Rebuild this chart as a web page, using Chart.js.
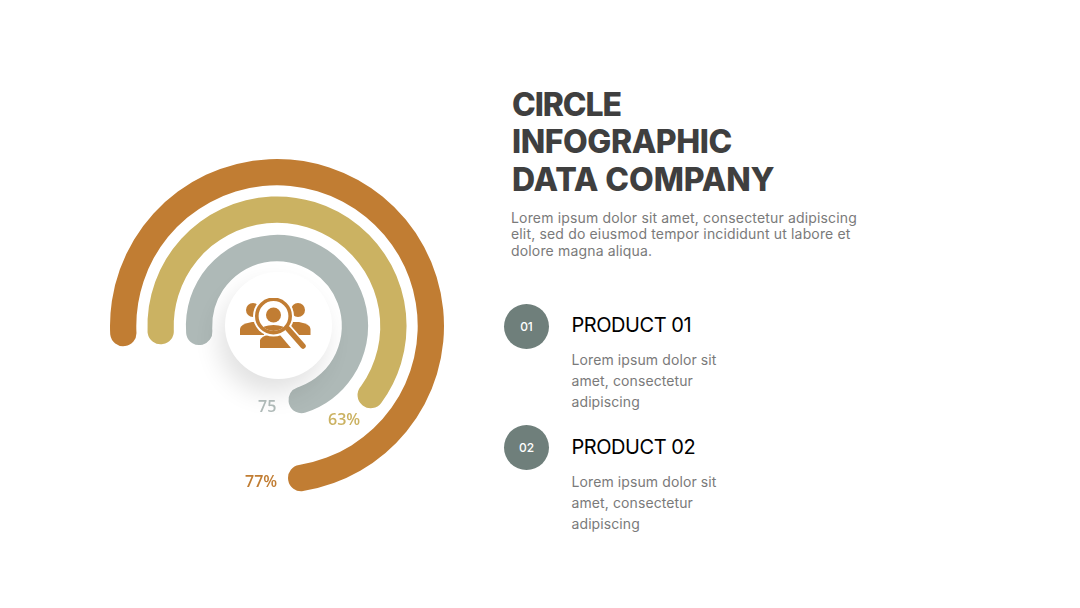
<!DOCTYPE html>
<html>
<head>
<meta charset="utf-8">
<title>Circle Infographic</title>
<script src="https://cdn.jsdelivr.net/npm/chart.js"></script>
<style>
html, body { margin: 0; padding: 0; background: #fff; }
body { width: 1080px; height: 608px; position: relative; overflow: hidden; font-family: Inter, sans-serif; }
#ring-wrap { position: absolute; left: 107px; top: 156px; width: 340px; height: 340px; }
#center-disc { position: absolute; left: 224.5px; top: 272px; width: 107px; height: 107px; border-radius: 50%; background: #fff; box-shadow: -6px 14px 26px rgba(0,0,0,.12); }
#center-icon { position: absolute; left: 238px; top: 298px; }
.t { position: absolute; white-space: nowrap; }
.head { font-weight: 800; font-size: 32px; color: #3f3f3f; }
.body { font-size: 14px; color: #7a7a7a; letter-spacing: 0.16px; }
.prod { font-size: 20px; color: #000; letter-spacing: -0.45px; }
.small { font-size: 14px; color: #7a7a7a; letter-spacing: 0.1px; }
.dot { position: absolute; width: 45px; height: 45px; border-radius: 50%; background: #6f7f7b; color: #fff; font-size: 12px; font-weight: 500; text-align: center; line-height: 45px; }
.val { position: absolute; font-family: "Open Sans", sans-serif; font-size: 16px; font-weight: 600; }
</style>
</head>
<body>
<div id="ring-wrap"><canvas id="rings" width="340" height="340"></canvas></div>
<div id="center-disc"></div>
<svg id="center-icon" width="76" height="56" viewBox="0 0 76 56">
  <defs><clipPath id="lens"><circle cx="35.5" cy="18" r="15"/></clipPath></defs>
  <g fill="#c17d33">
    <circle cx="15" cy="12" r="7"/>
    <path d="M2 37 V31 Q2 26 14 24 L26 24 L26 37 Z"/>
    <circle cx="60" cy="12" r="7"/>
    <path d="M72.5 37 V31 Q72.5 26 61 24 L50 24 L50 37 Z"/>
    <path d="M22 50 V42 Q24 38 30 37 L42 37 L53 50 Z"/>
  </g>
  <circle cx="35.5" cy="18" r="20.5" fill="#fff"/>
  <path d="M49 30 L65.5 49" stroke="#fff" stroke-width="9" stroke-linecap="round"/>
  <circle cx="35.5" cy="18" r="16.7" fill="#fff" stroke="#c17d33" stroke-width="3.6"/>
  <circle cx="35.5" cy="17" r="7.5" fill="#c17d33"/>
  <path d="M20 36 Q22 27 35.5 27 Q49 27 51 36 Z" fill="#c17d33" clip-path="url(#lens)"/>
  <path d="M50 31 L65 48" stroke="#c17d33" stroke-width="5.5" stroke-linecap="round"/>
</svg>
<div id="texts"></div>

<script>
// ring values, outer ring first
var ringLabels = ['77%', '63%', '75'];
var ringValues = [77, 63, 75];
var ringColors = ['#c17d33', '#cbb262', '#aeb9b7'];
// start angle and full-turn size of each ring
var ringRotation = [-97.5, -99, -104];
var ringTurn = [355, 368, 367];

var headLines = ['CIRCLE', 'INFOGRAPHIC', 'DATA COMPANY'];
var bodyLines = [
    'Lorem ipsum dolor sit amet, consectetur adipiscing',
    'elit, sed do eiusmod tempor incididunt ut labore et',
    'dolore magna aliqua.'
];
var productNames = ['PRODUCT 01', 'PRODUCT 02'];
var productNums = ['01', '02'];
var productLines = ['Lorem ipsum dolor sit', 'amet, consectetur', 'adipiscing'];

function ringDataset(i) {
    return {
        data: [ringValues[i], 100 - ringValues[i]],
        backgroundColor: [ringColors[i], 'rgba(0,0,0,0)'],
        rotation: ringRotation[i],
        circumference: ringTurn[i],
        borderWidth: 0,
        borderRadius: 13,
        weight: 26
    };
}

// empty rings keep the white gaps between the bands
function spacer(w) {
    return { data: [], weight: w, borderWidth: 0 };
}

var ctx = document.getElementById('rings').getContext('2d');
var chart = new Chart(ctx, {
    type: 'doughnut',
    data: {
        labels: ['value', 'rest'],
        datasets: [ringDataset(0), spacer(11), ringDataset(1), spacer(12), ringDataset(2)]
    },
    options: {
        responsive: false,
        animation: false,
        radius: 167,
        cutout: 66,
        plugins: { legend: { display: false }, tooltip: { enabled: false } }
    }
});

function addText(parent, cls, txt, left, top, extra) {
    var d = document.createElement('div');
    d.className = cls;
    d.textContent = txt;
    d.style.left = left + 'px';
    d.style.top = top + 'px';
    if (extra) d.style.cssText += extra;
    parent.appendChild(d);
    return d;
}

var box = document.getElementById('texts');
var headTops = [85, 122, 160];
var headSpacing = ['-1.1px', '-0.45px', '-0.1px'];
headLines.forEach(function (s, i) {
    addText(box, 't head', s, 512, headTops[i], 'letter-spacing:' + headSpacing[i]);
});
bodyLines.forEach(function (s, i) { addText(box, 't body', s, 511, 208.5 + i * 16.6); });

var prodY = [326, 448];
var dotY = [304, 425];
productNames.forEach(function (s, p) {
    addText(box, 'dot', productNums[p], 504, dotY[p]);
    addText(box, 't prod', s, 571.5, prodY[p] - 13);
    productLines.forEach(function (l, i) {
        addText(box, 't small', l, 571.5, prodY[p] + 25 + i * 21);
    });
});

var labelPos = [[245, 470], [328, 408], [258, 395]];
ringLabels.forEach(function (s, i) {
    addText(box, 'val', s, labelPos[i][0], labelPos[i][1], 'color:' + ringColors[i]);
});
</script>
</body>
</html>
